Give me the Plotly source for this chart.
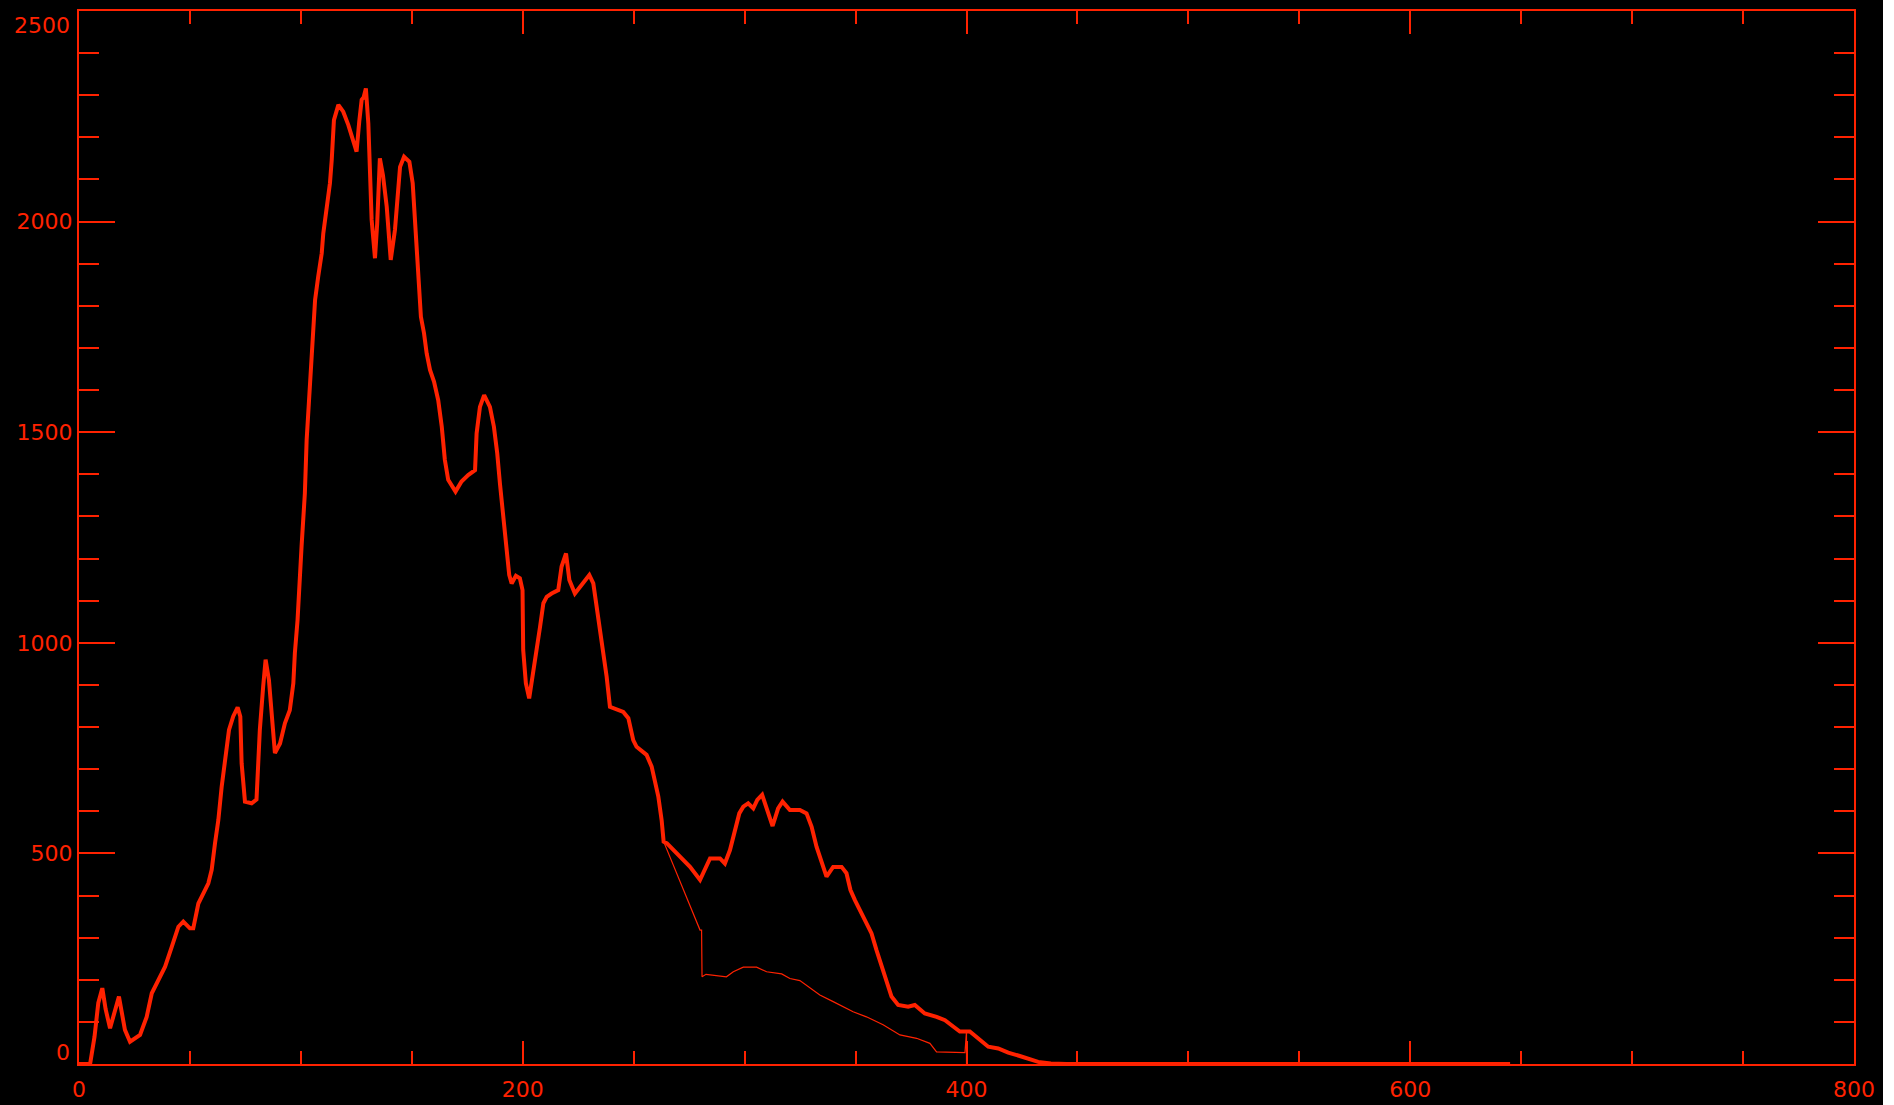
import plotly.graph_objects as go

# ---- data ----
hist_x = [0, 5, 7, 8.7, 10.5, 12, 14, 16, 18, 20.7, 23, 27.5, 30.5, 32.8, 35.7, 38.8, 41.8, 44.8, 47, 50,
          51.5, 53.8, 58.3, 59.8, 61.3, 62.8, 64.3, 66.5, 67.6, 69.5, 71.5, 72.7, 73.3, 74.8, 77.8, 80,
          80.8, 81.5, 83, 84.1, 85.6, 86.8, 88.3, 90.6, 92.8, 95, 96.6, 97.3, 98.5, 100.3, 101.8, 102.6,
          103.8, 104.8, 106.4, 107.8, 109.4, 110.1, 111.3, 112.4, 113.1, 113.9, 114.9, 116.9, 119.1,
          121.4, 123.6, 125.1, 126.3, 127.4, 128.3, 129.3, 130.4, 131.1, 131.9, 133.4, 134.4, 135.6, 137,
          138.7, 140.5, 142.4, 143.4, 144.7, 146.5, 148.9, 150.4, 151.4, 152.2, 153.4, 154.1, 155.5,
          156.7, 158.2, 160, 161.9, 163.5, 164.9, 166.4, 169.7, 172.4, 175.4, 178.5, 179.2, 180.7, 182.6,
          185.2, 187, 188.5, 189.7, 191.2, 192, 193, 193.9, 195, 196.9, 198.7, 199.9, 200.2, 201.4, 202.9,
          204.7, 206.5, 207.8, 209.3, 210.8, 213, 216, 217.5, 219.5, 221, 223.5, 226.5, 230, 231.8, 233.3,
          234.8, 236.3, 237.8, 239.3, 241.5, 245.3, 247.6, 249.8, 251.3, 255.8, 258.1, 259.6, 261.1,
          262.6, 263.5, 265, 270.8, 275.4, 279.9, 282.1, 284.4, 288.9, 291.1, 293.4, 295.6, 297.6, 299.4,
          301.6, 303.9, 305.7, 307.9, 309.9, 312.6, 315.1, 317.1, 320.4, 324.9, 327.9, 330.2, 332.4,
          334.7, 336.9, 339.9, 343.7, 345.9, 347.7, 349.7, 353.4, 357.2, 359.4, 361.7, 364, 366.2, 369.2,
          373.7, 376.7, 381.2, 386.5, 390.3, 394, 397, 401.5, 404.5, 409.8, 414.3, 418.8, 424, 428.6,
          432.3, 438, 445, 645]
hist_y = [0, 0, 65, 145, 180, 130, 85, 120, 160, 81, 53, 69, 112, 168, 199, 231, 278, 326, 338, 322,
          322, 381, 429, 461, 524, 579, 658, 738, 793, 825, 847, 825, 714, 623, 619, 628,
          714, 793, 896, 960, 912, 845, 738, 761, 809, 840, 904, 976, 1054, 1228, 1355, 1481,
          1600, 1695, 1814, 1869, 1925, 1972, 2020, 2059, 2091, 2146, 2241, 2277, 2261,
          2229, 2190, 2166, 2237, 2289, 2295, 2316, 2233, 2122, 2004, 1913, 1996, 2150, 2110,
          2035, 1909, 1980, 2051, 2130, 2154, 2142, 2091, 2012, 1917, 1838, 1774, 1735,
          1687, 1648, 1620, 1576, 1513, 1434, 1387, 1359, 1383, 1398, 1410, 1497, 1560, 1588,
          1560, 1513, 1450, 1379, 1307, 1268, 1212, 1161, 1141, 1159, 1153, 1125, 983, 904, 868,
          928, 983, 1038, 1094, 1109, 1117, 1125, 1181, 1212, 1149, 1117, 1137, 1161, 1141, 1086,
          1030, 983, 920, 848, 844, 836, 821, 769, 753, 734, 706, 674, 635,
          579, 528, 524, 492, 468, 437, 461, 488, 488, 476, 508, 556, 595, 611,
          619, 607, 627, 639, 607, 565, 607, 623, 603, 603, 595, 563, 516,
          476, 445, 468, 468, 453, 413, 389, 350, 310, 271, 231, 192, 160, 140,
          136, 140, 120, 112, 104, 89, 77, 77, 65, 41, 37, 27, 19, 11,
          5, 1, 0, 0]

fit_x = [263.5, 279.9, 280.6, 280.8, 282.6, 291.8, 294.9, 299.4, 305.4, 309.9, 316.7, 320.4, 324.9,
         329.4, 333.9, 339.9, 348.9, 354.9, 362.4, 370, 377.5, 383.5, 386.5, 399.3, 400, 400]
fit_y = [528, 318, 318, 207, 213, 207, 219, 230, 230, 219, 214, 203, 198,
         180, 164, 148, 124, 112, 93, 69, 61, 49, 29, 27, 77, 0]

x_range = [0, 800]
y_range = [0, 2500]
x_major, x_minor = 200, 50
y_major, y_minor = 500, 100
y_tick_vals = [0, 500, 1000, 1500, 2000, 2500]
y_tick_text = ["0", "500", "1000", "1500", "2000", "2500"]

RED = "#ff2200"
FONT = dict(family="DejaVu Sans", size=22, color=RED)

fig = go.Figure()
fig.add_trace(go.Scatter(x=hist_x, y=hist_y, mode="lines",
                         line=dict(color=RED, width=4), hoverinfo="skip"))
fig.add_trace(go.Scatter(x=fit_x, y=fit_y, mode="lines",
                         line=dict(color=RED, width=1.2), hoverinfo="skip"))

axis_common = dict(showgrid=False, zeroline=False, showline=True, linecolor=RED, linewidth=2,
                   mirror="ticks", ticks="inside", tickcolor=RED, tickwidth=2, automargin=False,
                   tickfont=FONT)

fig.update_xaxes(range=x_range, dtick=x_major, tick0=0, ticklen=23, ticklabelstandoff=5,
                 minor=dict(dtick=x_minor, ticklen=13, ticks="inside", tickcolor=RED, tickwidth=2,
                            showgrid=False),
                 **axis_common)

# inner y labels drawn by the axis; the two end labels are kept inside the frame (IDL style)
inner = [(v, t) for v, t in zip(y_tick_vals, y_tick_text) if v not in (y_range[0], y_range[1])]
fig.update_yaxes(range=y_range, tickmode="array",
                 tickvals=y_tick_vals,
                 ticktext=[t if v not in (y_range[0], y_range[1]) else "" for v, t in zip(y_tick_vals, y_tick_text)],
                 ticklen=36,
                 minor=dict(dtick=y_minor, ticklen=20, ticks="inside", tickcolor=RED, tickwidth=2,
                            showgrid=False),
                 **axis_common)

for v, t in zip(y_tick_vals, y_tick_text):
    if v == y_range[1]:
        fig.add_annotation(x=0, xref="paper", y=v, yref="y", text=t, showarrow=False,
                           xanchor="right", yanchor="top", xshift=-7, yshift=0, font=FONT)
    elif v == y_range[0]:
        fig.add_annotation(x=0, xref="paper", y=v, yref="y", text=t, showarrow=False,
                           xanchor="right", yanchor="bottom", xshift=-7, yshift=-3, font=FONT)

fig.update_layout(width=1883, height=1105, showlegend=False,
                  paper_bgcolor="black", plot_bgcolor="black",
                  margin=dict(l=79, r=29, t=11, b=41))

fig.write_html("out.html", config={"displayModeBar": False},
               post_script="document.body.style.margin='0';document.body.style.overflow='hidden';")
